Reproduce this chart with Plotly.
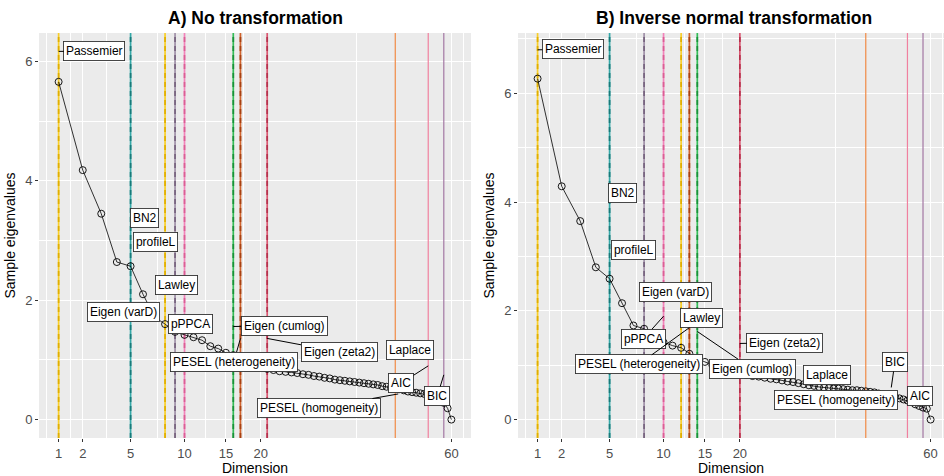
import numpy as np
import plotly.graph_objects as go

# ---------------- data ----------------
dims = list(range(1, 61))

eig_none = [5.66, 4.18, 3.45, 2.64, 2.57, 2.10, 1.72, 1.60, 1.47, 1.42,
            1.38, 1.33, 1.23, 1.19, 1.12, 1.08, 1.03, 0.98, 0.93, 0.88,
            0.85, 0.83, 0.81, 0.80, 0.79, 0.78, 0.76, 0.75, 0.73, 0.72,
            0.70, 0.69, 0.67, 0.66, 0.65, 0.64, 0.63, 0.62, 0.61, 0.60,
            0.59, 0.58, 0.56, 0.55, 0.54, 0.52, 0.51, 0.49, 0.47, 0.46,
            0.45, 0.44, 0.43, 0.42, 0.40, 0.38, 0.33, 0.28, 0.19, 0.00]

eig_inv = [6.27, 4.29, 3.65, 2.80, 2.59, 2.14, 1.73, 1.67, 1.52, 1.42,
           1.36, 1.32, 1.21, 1.12, 1.06, 1.00, 0.95, 0.90, 0.87, 0.84,
           0.82, 0.80, 0.79, 0.77, 0.75, 0.74, 0.72, 0.70, 0.69, 0.67,
           0.65, 0.63, 0.62, 0.60, 0.59, 0.58, 0.57, 0.57, 0.56, 0.55,
           0.54, 0.54, 0.53, 0.52, 0.51, 0.50, 0.48, 0.46, 0.45, 0.43,
           0.41, 0.39, 0.37, 0.35, 0.32, 0.28, 0.25, 0.22, 0.20, 0.00]

x_ticks = [1, 2, 5, 10, 15, 20, 60]
y_ticks = [0, 2, 4, 6]

methods = ["Passemier", "BN2", "Lawley", "Eigen (varD)", "pPPCA",
           "Eigen (cumlog)", "PESEL (heterogeneity)", "Eigen (zeta2)",
           "PESEL (homogeneity)", "AIC", "BIC"]
est_none = [1, 5, 8, 9, 10, 16, 17, 21, 46, 54, 58]
est_inv = [1, 5, 8, 10, 12, 13, 14, 20, 44, 54, 58]

# ---------------- styles ----------------
vline_style_A = [  # (base colour, dash colour or None)
    ("#F8CF2A", "#E0AE00"), ("#34A8A8", "#187A79"), ("#F8CF2A", "#E0AE00"),
    ("#A091A8", "#76637E"), ("#F283BA", "#DB5E95"), ("#34BD58", "#1A9139"),
    ("#D0622B", "#A84010"), ("#DA5671", "#B5324D"),
    ("#F08A45", None), ("#F0809F", None), ("#A377A3", None)]
vline_style_B = [
    ("#F8CF2A", "#E0AE00"), ("#34A8A8", "#187A79"), ("#A091A8", "#76637E"),
    ("#F283BA", "#DB5E95"), ("#F8CF2A", "#E0AE00"), ("#D0622B", "#A84010"),
    ("#34BD58", "#1A9139"), ("#DA5671", "#B5324D"),
    ("#F08A45", None), ("#F0809F", None), ("#A377A3", None)]

# label layout: text, anchor dim (or None), anchor y, box centre (sqrt-axis pos, y)
labels_A = [
    ("Passemier", 1, 6.17, 1.616, 6.174),
    ("BN2", None, None, 2.473, 3.384),
    ("profileL", None, None, 2.659, 2.971),
    ("Lawley", None, None, 3.033, 2.260),
    ("Eigen (varD)", None, None, 2.115, 1.797),
    ("pPPCA", None, None, 3.271, 1.602),
    ("Eigen (cumlog)", 16, 1.56, 4.875, 1.571),
    ("PESEL (heterogeneity)", 17, 1.36, 4.010, 0.971),
    ("Eigen (zeta2)", 21, 1.36, 5.818, 1.133),
    ("Laplace", None, None, 7.027, 1.158),
    ("AIC", 54, 0.90, 6.882, 0.609),
    ("BIC", 58, 0.75, 7.504, 0.393),
    ("PESEL (homogeneity)", 46.7, 0.43, 5.467, 0.193),
]
labels_B = [
    ("Passemier", 1, 6.80, 1.608, 6.806),
    ("BN2", None, None, 2.462, 4.168),
    ("profileL", None, None, 2.648, 3.118),
    ("Eigen (varD)", None, None, 3.372, 2.343),
    ("Lawley", None, None, 3.822, 1.871),
    ("pPPCA", 10, 1.90, 2.818, 1.489),
    ("PESEL (heterogeneity)", 13, 1.69, 2.734, 1.015),
    ("Eigen (cumlog)", 14, 1.62, 4.682, 0.935),
    ("Eigen (zeta2)", 20, 1.40, 5.246, 1.412),
    ("Laplace", None, None, 5.969, 0.821),
    ("BIC", 50, 0.59, 7.134, 1.061),
    ("PESEL (homogeneity)", None, None, 6.124, 0.367),
    ("AIC", None, None, 7.557, 0.437),
]

FONT = "Liberation Sans, Arial, Helvetica, sans-serif"
W, H = 944, 476
Y_RANGE_A = [-0.3085, 6.478]
Y_RANGE_B = [-0.339, 7.109]

fig = go.Figure()

# vertical method lines (drawn as traces on each panel)
for est, styles, xa, ya, yr in [(est_none, vline_style_A, "x", "y", Y_RANGE_A),
                                (est_inv, vline_style_B, "x2", "y2", Y_RANGE_B)]:
    for d, (base, dash) in zip(est, styles):
        xv = float(np.sqrt(d))
        if dash is None:
            fig.add_trace(go.Scatter(x=[xv, xv], y=yr, xaxis=xa, yaxis=ya,
                                     mode="lines", showlegend=False,
                                     hoverinfo="skip",
                                     line=dict(color=base, width=1.2)))
        else:
            fig.add_trace(go.Scatter(x=[xv, xv], y=yr, xaxis=xa, yaxis=ya,
                                     mode="lines", showlegend=False,
                                     hoverinfo="skip",
                                     line=dict(color=base, width=1.7)))
            fig.add_trace(go.Scatter(x=[xv, xv], y=yr, xaxis=xa, yaxis=ya,
                                     mode="lines", showlegend=False,
                                     hoverinfo="skip",
                                     line=dict(color=dash, width=1.7,
                                               dash="5px,4px")))

sx = np.sqrt(dims)
for eig, xa, ya in [(eig_none, "x", "y"), (eig_inv, "x2", "y2")]:
    fig.add_trace(go.Scatter(
        x=sx, y=eig, xaxis=xa, yaxis=ya, mode="lines+markers",
        line=dict(color="black", width=0.8),
        marker=dict(symbol="circle-open", size=7, color="black",
                    line=dict(width=0.9, color="black")),
        showlegend=False, hoverinfo="skip"))

annotations = []
for labs, xr, yr in [(labels_A, "x", "y"), (labels_B, "x2", "y2")]:
    for text, ad, ay_, bx, by in labs:
        common = dict(text=text, xref=xr, yref=yr,
                      font=dict(family=FONT, size=12, color="black"),
                      bgcolor="white", bordercolor="#333333",
                      borderwidth=0.9, borderpad=2)
        if ad is None:
            annotations.append(dict(x=bx, y=by, showarrow=False,
                                    xanchor="center", yanchor="middle",
                                    **common))
        else:
            annotations.append(dict(x=float(np.sqrt(ad)), y=ay_,
                                    ax=bx, ay=by, axref=xr, ayref=yr,
                                    showarrow=True, arrowhead=0,
                                    arrowwidth=1, arrowcolor="black",
                                    standoff=0, startstandoff=0, **common))

# panel titles
annotations.append(dict(text="<b>A) No transformation</b>", xref="paper",
                        yref="paper", x=(39 + 471) / 2 / W, y=1 - 18 / H,
                        showarrow=False, xanchor="center", yanchor="middle",
                        font=dict(family=FONT, size=17.5, color="black")))
annotations.append(dict(text="<b>B) Inverse normal transformation</b>",
                        xref="paper", yref="paper", x=(518 + 950) / 2 / W,
                        y=1 - 18 / H, showarrow=False, xanchor="center",
                        yanchor="middle",
                        font=dict(family=FONT, size=17.5, color="black")))

fig.update_layout(annotations=annotations)

minor_x = [0.793, 1.207, 1.825, 2.699, 3.518, 4.173, 6.109, 7.953]

def xaxis_cfg(domain, rng, anchor):
    return dict(domain=domain, range=rng, anchor=anchor,
                tickmode="array", tickvals=list(np.sqrt(x_ticks)),
                ticktext=[str(t) for t in x_ticks], showgrid=True,
                gridcolor="white", gridwidth=1.1, zeroline=False,
                ticks="outside", ticklen=3, tickwidth=1, tickcolor="#333333",
                tickfont=dict(family=FONT, size=13, color="#4D4D4D"),
                title=dict(text="Dimension", standoff=2,
                           font=dict(family=FONT, size=14, color="black")),
                minor=dict(tickmode="array", tickvals=minor_x, showgrid=True,
                           gridcolor="white", gridwidth=0.5),
                showline=False, automargin=False, fixedrange=True)

def yaxis_cfg(domain, rng, minor_vals, anchor):
    return dict(domain=domain, range=rng, tickmode="array", tickvals=y_ticks,
                ticktext=[str(t) for t in y_ticks], showgrid=True,
                gridcolor="white", gridwidth=1.1, zeroline=False,
                ticks="outside", ticklen=3, tickwidth=1, tickcolor="#333333",
                tickfont=dict(family=FONT, size=13, color="#4D4D4D"),
                title=dict(text="Sample eigenvalues", standoff=6,
                           font=dict(family=FONT, size=14, color="black")),
                minor=dict(tickmode="array", tickvals=minor_vals,
                           showgrid=True, gridcolor="white", gridwidth=0.5),
                showline=False, automargin=False, anchor=anchor,
                fixedrange=True)

ydom = [1 - 438 / H, 1 - 33 / H]
fig.update_layout(
    width=W, height=H, margin=dict(l=0, r=0, t=0, b=0),
    paper_bgcolor="white", plot_bgcolor="#EBEBEB",
    font=dict(family=FONT),
    xaxis=xaxis_cfg([39 / W, 471 / W], [0.663, 8.083], "y"),
    xaxis2=xaxis_cfg([518 / W, 1.0], [0.664, 0.664 + 426 / 58.26], "y2"),
    yaxis=yaxis_cfg(ydom, Y_RANGE_A, [1, 3, 5], "x"),
    yaxis2=yaxis_cfg(ydom, Y_RANGE_B, [1, 3, 5, 7], "x2"),
)

fig.write_html("out.html")
